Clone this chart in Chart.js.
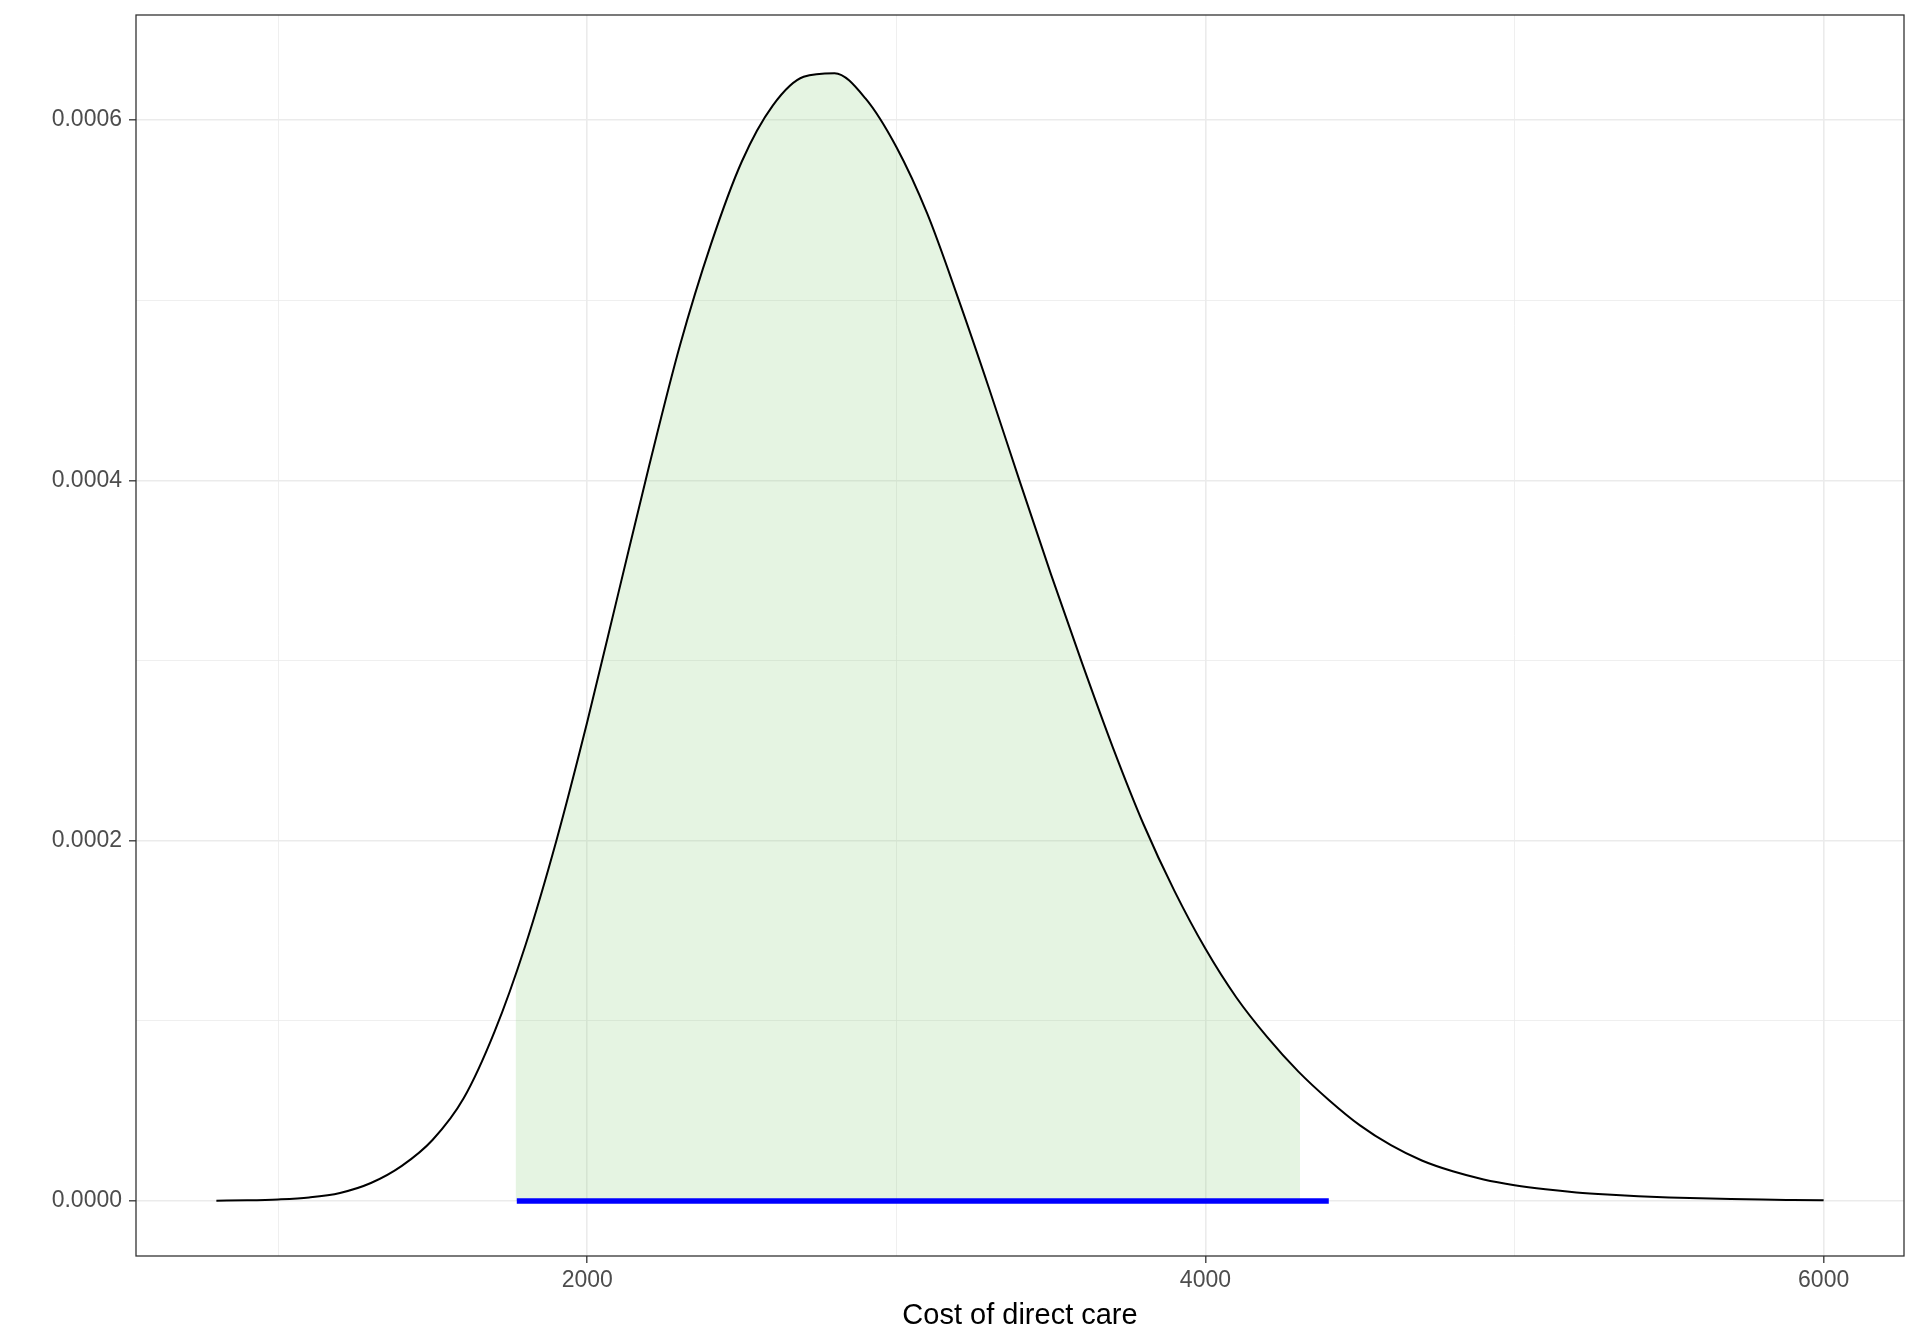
<!DOCTYPE html>
<html>
<head>
<meta charset="utf-8">
<title>Cost of direct care</title>
<script src="https://cdn.jsdelivr.net/npm/chart.js@4.4.1/dist/chart.umd.min.js"></script>
<style>
  html, body { margin: 0; padding: 0; background: #fff; }
  #wrap { width: 1920px; height: 1344px; }
</style>
</head>
<body>
<div id="wrap"><canvas id="densityChart" width="1920" height="1344"></canvas></div>
<script>
// ===== DENSITY OF DIRECT CARE COST =====

// curve, every 100 units of cost
const COST = [
  800, 900, 1000, 1100, 1200, 1300, 1400, 1500, 1600, 1700,
  1800, 1900, 2000, 2100, 2200, 2300, 2400, 2500, 2600, 2700,
  2800, 2900, 3000, 3100, 3200, 3300, 3400, 3500, 3600, 3700,
  3800, 3900, 4000, 4100, 4200, 4300, 4400, 4500, 4600, 4700,
  4800, 4900, 5000, 5100, 5200, 5300, 5400, 5500, 5600, 5700,
  5800, 5900, 6000
];
const DENSITY = [
  0.0000002, 0.0000004, 0.0000009, 0.000002, 0.0000045, 0.00001, 0.0000195, 0.000034, 0.000057, 0.000094,
  0.000142, 0.000200, 0.000266, 0.000337, 0.000408, 0.000475, 0.000531, 0.000577, 0.000608, 0.000624,
  0.000626, 0.000612, 0.000585, 0.000548, 0.000501, 0.000451, 0.000399, 0.000348, 0.000299, 0.000252,
  0.000209, 0.000172, 0.000140, 0.000113, 0.000091, 0.000072, 0.000056, 0.000042, 0.000031, 0.0000225,
  0.0000165, 0.000012, 0.0000088, 0.0000065, 0.0000048, 0.0000036, 0.0000027, 0.000002, 0.0000015, 0.0000011,
  0.0000008, 0.0000006, 0.00000045
];

// shaded band under the curve and the blue interval on the baseline
const SHADE_RANGE = [1768, 4306];
const SHADE_EDGE_DENSITY = [0.000128, 0.000071];
const INTERVAL = [1772, 4399];

// axes
const X_RANGE = [540, 6260];
const Y_RANGE = [-0.0000305, 0.0006583];
const X_MAJOR = [2000, 4000, 6000];
const X_MINOR = [1000, 3000, 5000];
const Y_MAJOR = [0, 0.0002, 0.0004, 0.0006];
const Y_MINOR = [0.0001, 0.0003, 0.0005];
const X_TITLE = 'Cost of direct care';

Chart.defaults.font.family = '"Liberation Sans", Arial, Helvetica, sans-serif';

const isMajor = (list, v) => list.some(m => Math.abs(m - v) < 1e-9);

function curvePoints() {
  return COST.map((c, i) => ({ x: c, y: DENSITY[i] }));
}

function shadePoints() {
  const inner = COST
    .map((c, i) => ({ x: c, y: DENSITY[i] }))
    .filter(p => p.x > SHADE_RANGE[0] && p.x < SHADE_RANGE[1]);
  return [
    { x: SHADE_RANGE[0], y: SHADE_EDGE_DENSITY[0] },
    ...inner,
    { x: SHADE_RANGE[1], y: SHADE_EDGE_DENSITY[1] }
  ];
}

const panelBorder = {
  id: 'panelBorder',
  afterDraw(chart) {
    const { ctx, chartArea: a } = chart;
    ctx.save();
    ctx.strokeStyle = '#333333';
    ctx.lineWidth = 1.3;
    ctx.strokeRect(a.left, a.top, a.right - a.left, a.bottom - a.top);
    ctx.restore();
  }
};

function gridFor(major) {
  return {
    color: '#ebebeb',
    lineWidth: ctx => isMajor(major, ctx.tick.value) ? 1.6 : 0.8,
    drawTicks: true,
    tickLength: 7,
    tickWidth: 1.3,
    tickColor: ctx => isMajor(major, ctx.tick.value) ? '#333333' : 'rgba(0,0,0,0)'
  };
}

function renderChart() {
  const ctx = document.getElementById('densityChart').getContext('2d');

  new Chart(ctx, {
    type: 'line',
    data: {
      datasets: [
        {
          data: [{ x: INTERVAL[0], y: 0 }, { x: INTERVAL[1], y: 0 }],
          borderColor: '#0000ff',
          borderWidth: 5.5,
          borderCapStyle: 'butt',
          pointRadius: 0,
          fill: false,
          order: 0
        },
        {
          data: curvePoints(),
          borderColor: '#000000',
          borderWidth: 2,
          pointRadius: 0,
          cubicInterpolationMode: 'monotone',
          fill: false,
          order: 1
        },
        {
          data: shadePoints(),
          borderWidth: 0,
          borderColor: 'rgba(0,0,0,0)',
          backgroundColor: 'rgba(125,200,110,0.2)',
          pointRadius: 0,
          cubicInterpolationMode: 'monotone',
          fill: 'origin',
          order: 2
        }
      ]
    },
    options: {
      responsive: false,
      animation: false,
      devicePixelRatio: 1,
      layout: { padding: { top: 15, right: 16, left: 0, bottom: 0 } },
      plugins: {
        legend: { display: false },
        tooltip: { enabled: false }
      },
      scales: {
        x: {
          type: 'linear',
          min: X_RANGE[0],
          max: X_RANGE[1],
          afterBuildTicks: scale => {
            scale.ticks = [...X_MINOR, ...X_MAJOR].sort((a, b) => a - b).map(v => ({ value: v }));
          },
          afterFit: scale => {
            scale.height = 88;
            scale.paddingLeft = 0;
            scale.paddingRight = 0;
          },
          grid: gridFor(X_MAJOR),
          border: { display: false },
          ticks: {
            autoSkip: false,
            maxRotation: 0,
            padding: 4,
            color: '#4d4d4d',
            font: { size: 23 },
            callback: v => isMajor(X_MAJOR, v) ? String(v) : ''
          },
          title: {
            display: true,
            text: X_TITLE,
            color: '#000000',
            font: { size: 29 },
            padding: { top: 0, bottom: 11 }
          }
        },
        y: {
          type: 'linear',
          min: Y_RANGE[0],
          max: Y_RANGE[1],
          afterBuildTicks: scale => {
            scale.ticks = [...Y_MINOR, ...Y_MAJOR].sort((a, b) => a - b).map(v => ({ value: v }));
          },
          afterFit: scale => {
            scale.width = 136;
            scale.paddingTop = 0;
            scale.paddingBottom = 0;
          },
          grid: gridFor(Y_MAJOR),
          border: { display: false },
          ticks: {
            autoSkip: false,
            padding: 7,
            color: '#4d4d4d',
            font: { size: 23 },
            callback: v => isMajor(Y_MAJOR, v) ? v.toFixed(4) : ''
          }
        }
      }
    },
    plugins: [panelBorder]
  });
}

document.addEventListener('DOMContentLoaded', renderChart);
</script>
</body>
</html>
